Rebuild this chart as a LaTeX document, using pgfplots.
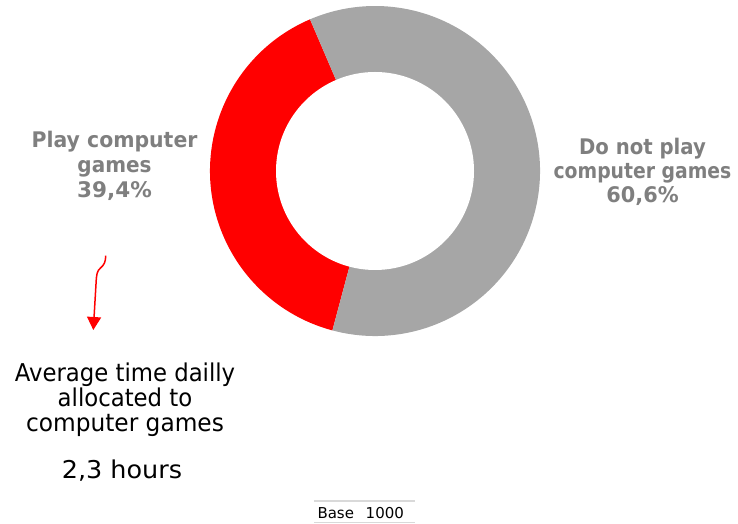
\documentclass[border=0pt]{standalone}
\usepackage{pgfplots}
\pgfplotsset{compat=1.18}
\usepackage{pgfplotstable}
\usepackage{graphicx}
\usepackage{fontspec}
\setmainfont{DejaVu Sans}
\usetikzlibrary{arrows.meta}
\definecolor{pieRed}{HTML}{FF0000}
\definecolor{pieGray}{HTML}{A6A6A6}
\definecolor{labGray}{HTML}{7F7F7F}
\definecolor{ruleGray}{HTML}{D9D9D9}

\pgfplotstableread{
share
39.4
60.6
}\sharetable
\pgfplotstablegetelem{0}{share}\of\sharetable \edef\playshare{\pgfplotsretval}
\pgfplotstablegetelem{1}{share}\of\sharetable \edef\noshare{\pgfplotsretval}
\pgfmathsetmacro\startang{113.2}
\pgfmathsetmacro\redend{\startang+3.6*\playshare}
\pgfmathsetmacro\grayend{\redend+3.6*\noshare}

\begin{document}
\begin{tikzpicture}
\begin{axis}[width=738bp,height=524bp,scale only axis,
  xmin=0,xmax=738,ymin=0,ymax=524,hide axis,clip=false,enlargelimits=false]
\path (axis cs:0,0) rectangle (axis cs:738,524);
% donut
\fill[pieRed] (axis cs:375,353) -- ++(\startang:165) arc[start angle=\startang, end angle=\redend, radius=165] -- cycle;
\fill[pieGray] (axis cs:375,353) -- ++(\redend:165) arc[start angle=\redend, end angle=\grayend, radius=165] -- cycle;
\fill[white] (axis cs:375,353) circle[radius=99];
% labels
\begin{scope}[every node/.style={labGray, font=\fontsize{21.5bp}{24bp}\selectfont\bfseries, anchor=base, inner sep=0pt}]
\node at (axis cs:114.5,376) {\scalebox{0.95}[1]{Play computer}};
\node at (axis cs:114.5,351.5) {\scalebox{0.93}[1]{games}};
\node at (axis cs:114.5,326.5) {\scalebox{1.0}[1]{39,4\%}};
\node at (axis cs:642.5,369) {\scalebox{0.915}[1]{Do not play}};
\node at (axis cs:642.5,345) {\scalebox{0.875}[1]{computer games}};
\node at (axis cs:642.5,321) {\scalebox{0.97}[1]{60,6\%}};
\end{scope}
\begin{scope}[every node/.style={black, font=\fontsize{24.5bp}{26bp}\selectfont, anchor=base, inner sep=0pt}]
\node at (axis cs:125,142.3) {\scalebox{0.93}[1]{Average time dailly}};
\node at (axis cs:125,117.3) {\scalebox{0.93}[1]{allocated to}};
\node at (axis cs:125,92.3) {\scalebox{0.95}[1]{computer games}};
\node at (axis cs:122,45.7) {\scalebox{1.04}[1]{2,3 hours}};
\end{scope}
% arrow
\draw[pieRed, line width=1.5bp, -{Triangle[width=14bp,length=13bp]}]
  (axis cs:105.7,268.3) .. controls (axis cs:105.7,262) and (axis cs:104,259) .. (axis cs:100.5,256)
  .. controls (axis cs:97,253) and (axis cs:96.5,250) .. (axis cs:96,240) -- (axis cs:93.3,194);
% base
\draw[ruleGray, line width=1.3bp] (axis cs:314,23) -- (axis cs:415,23);
\draw[ruleGray, line width=1.3bp] (axis cs:314,1.5) -- (axis cs:415,1.5);
\node[black, font=\fontsize{15bp}{17bp}\selectfont, anchor=base west, inner sep=0pt] at (axis cs:317.3,5.7) {Base\hspace{11.7bp}1000};
\end{axis}
\end{tikzpicture}
\end{document}
